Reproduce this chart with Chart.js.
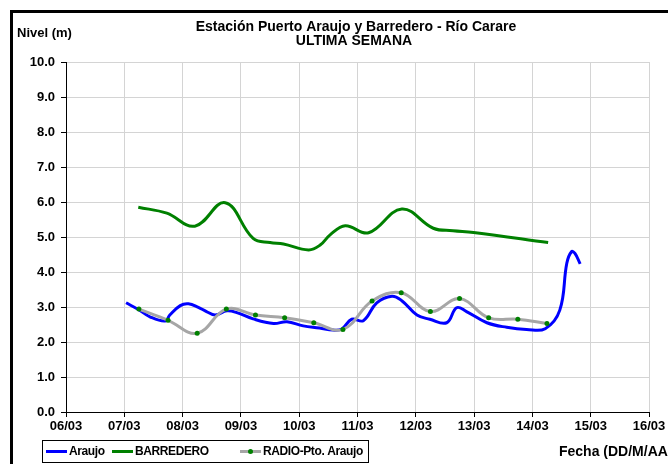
<!DOCTYPE html>
<html lang="es">
<head>
<meta charset="utf-8">
<title>Estación Puerto Araujo y Barredero - Río Carare</title>
<script src="https://cdn.jsdelivr.net/npm/chart.js@4/dist/chart.umd.min.js"></script>
<style>
    html, body { margin: 0; padding: 0; background: #fff; }
    canvas { display: block; }
</style>
</head>
<body>
<canvas id="grafico" width="668" height="464"></canvas>
<script>
'use strict';

// días contados desde 06/03 00:00
const fechas = ['06/03', '07/03', '08/03', '09/03', '10/03', '11/03', '12/03', '13/03', '14/03', '15/03', '16/03'];

const araujoDias = [1.03, 1.24, 1.44, 1.70, 1.78, 1.96, 2.10, 2.27, 2.41, 2.56, 2.76, 2.93, 3.21, 3.56, 3.79, 4.07, 4.35, 4.58, 4.73, 4.90, 5.10, 5.33, 5.59, 5.76, 6.02, 6.24, 6.53, 6.70, 6.87, 7.22, 7.56, 7.90, 8.22, 8.47, 8.59, 8.67, 8.73, 8.82];
const araujoNivel = [3.12, 2.93, 2.72, 2.60, 2.77, 3.04, 3.09, 2.99, 2.87, 2.77, 2.89, 2.84, 2.66, 2.53, 2.58, 2.46, 2.40, 2.34, 2.37, 2.65, 2.61, 3.12, 3.31, 3.18, 2.77, 2.65, 2.55, 2.98, 2.87, 2.55, 2.42, 2.36, 2.38, 2.91, 4.25, 4.58, 4.53, 4.23];

const barrederoDias = [1.24, 1.73, 2.21, 2.73, 3.21, 3.50, 3.73, 4.16, 4.36, 4.53, 4.79, 5.19, 5.76, 6.30, 6.64, 6.99, 8.27];
const barrederoNivel = [5.85, 5.68, 5.31, 5.98, 4.96, 4.84, 4.80, 4.63, 4.77, 5.06, 5.32, 5.12, 5.80, 5.25, 5.18, 5.13, 4.84];

const radioDias = [1.25, 1.75, 2.25, 2.75, 3.25, 3.75, 4.25, 4.75, 5.25, 5.75, 6.25, 6.75, 7.25, 7.75, 8.25];
const radioNivel = [2.94, 2.62, 2.25, 2.94, 2.77, 2.69, 2.55, 2.36, 3.17, 3.41, 2.87, 3.24, 2.69, 2.65, 2.53];

const FUENTE = '"Liberation Sans", Arial, sans-serif';

function puntos(dias, niveles)
{
    return dias.map((d, i) => ({ x: d, y: niveles[i] }));
}

// textos, marco y leyenda dibujados a mano (como en la hoja de Excel)
const decoracion = {
    id: 'decoracion',
    afterDraw(chart) {
        const ctx = chart.ctx;
        ctx.save();

        // marco negro del gráfico (recortado a la derecha y abajo)
        ctx.fillStyle = '#000';
        ctx.fillRect(10, 10, 658, 3);
        ctx.fillRect(10, 10, 3, 454);

        ctx.fillStyle = '#000';
        ctx.textBaseline = 'alphabetic';
        ctx.font = 'bold 14px ' + FUENTE;
        ctx.textAlign = 'center';
        ctx.fillText('Estación Puerto Araujo y Barredero - Río Carare', 356, 31);
        ctx.fillText('ULTIMA SEMANA', 354, 45);

        ctx.font = 'bold 13px ' + FUENTE;
        ctx.textAlign = 'left';
        ctx.fillText('Nivel (m)', 17, 37);

        ctx.font = 'bold 14px ' + FUENTE;
        ctx.fillText('Fecha (DD/M/AA)', 559, 456);

        // leyenda
        ctx.strokeStyle = '#000';
        ctx.lineWidth = 1;
        ctx.strokeRect(42.5, 440.5, 326, 22);

        const items = [
            { ds: chart.data.datasets[0], x: 46 },
            { ds: chart.data.datasets[1], x: 112 },
            { ds: chart.data.datasets[2], x: 240 }
        ];
        ctx.font = 'bold 12px ' + FUENTE;
        ctx.letterSpacing = '-0.4px';
        ctx.textBaseline = 'middle';
        items.forEach(function(it) {
            ctx.strokeStyle = it.ds.borderColor;
            ctx.lineWidth = 3;
            ctx.beginPath();
            ctx.moveTo(it.x, 451.5);
            ctx.lineTo(it.x + 21, 451.5);
            ctx.stroke();
            if(it.ds.pointRadius > 0)
            {
                ctx.fillStyle = it.ds.pointBackgroundColor;
                ctx.beginPath();
                ctx.arc(it.x + 10.5, 451.5, 2.5, 0, Math.PI * 2);
                ctx.fill();
            }
            ctx.fillStyle = '#000';
            ctx.fillText(it.ds.label, it.x + 23, 452);
        });

        ctx.restore();
    }
};

const ctx = document.getElementById('grafico');

const grafico = new Chart(ctx, {
    type: 'line',
    data: {
        datasets: [
            {
                label: 'Araujo',
                data: puntos(araujoDias, araujoNivel),
                borderColor: '#0000ff',
                borderWidth: 3,
                pointRadius: 0,
                tension: 0.4,
                order: 2
            },
            {
                label: 'BARREDERO',
                data: puntos(barrederoDias, barrederoNivel),
                borderColor: '#008000',
                borderWidth: 3,
                pointRadius: 0,
                tension: 0.4,
                order: 1
            },
            {
                label: 'RADIO-Pto. Araujo',
                data: puntos(radioDias, radioNivel),
                borderColor: '#a6a6a6',
                borderWidth: 3,
                pointRadius: 2.5,
                pointBackgroundColor: '#008000',
                pointBorderWidth: 0,
                tension: 0.4,
                order: 0
            }
        ]
    },
    options: {
        responsive: false,
        animation: false,
        events: [],
        layout: {
            padding: { top: 62, right: 19, left: 0, bottom: 0 }
        },
        plugins: {
            legend: { display: false },
            title: { display: false },
            tooltip: { enabled: false }
        },
        scales: {
            x: {
                type: 'linear',
                min: 0,
                max: 10,
                afterFit: function(axis) { axis.height = 52; },
                grid: { color: '#d4d4d4', tickColor: '#000', tickLength: 5 },
                border: { color: '#000', width: 1 },
                ticks: {
                    stepSize: 1,
                    padding: 2,
                    color: '#000',
                    font: { family: FUENTE, size: 13, weight: 'bold' },
                    maxRotation: 0,
                    callback: function(v) { return fechas[v]; }
                }
            },
            y: {
                min: 0,
                max: 10,
                afterFit: function(axis) { axis.width = 66; },
                grid: { color: '#d4d4d4', tickColor: '#000', tickLength: 5 },
                border: { color: '#000', width: 1 },
                ticks: {
                    stepSize: 1,
                    padding: 6,
                    color: '#000',
                    font: { family: FUENTE, size: 13, weight: 'bold' },
                    callback: function(v) { return v.toFixed(1); }
                }
            }
        }
    },
    plugins: [decoracion]
});
</script>
</body>
</html>
